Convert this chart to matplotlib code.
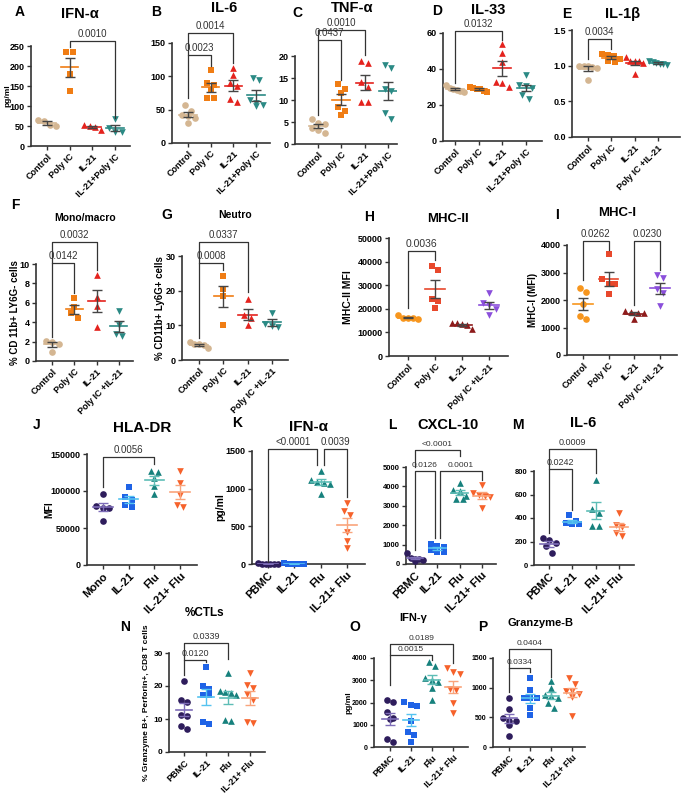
import numpy as np
import matplotlib
matplotlib.use("Agg")
import matplotlib.pyplot as plt

plt.rcParams['font.family'] = ['Liberation Sans', 'DejaVu Sans']

W, H = 685, 795

# ---- categories ----
cats_a = ["Control", "Poly IC", "IL-21", "IL-21+Poly IC"]
cats_e = ["Control", "Poly IC", "IL-21", "Poly IC +IL-21"]
cats_j = ["Mono", "IL-21", "Flu", "IL-21+ Flu"]
cats_k = ["PBMC", "IL-21", "Flu", "IL-21+ Flu"]

# ---- values ----
ifna_mouse = [[65, 63, 50, 52], [235, 235, 180, 137], [50, 52, 40, 48], [67, 45, 35, 35]]
il6_mouse = [[57, 48, 42, 40, 38, 30], [110, 90, 87, 80, 67, 67],
             [113, 102, 90, 85, 66, 61], [95, 98, 65, 60, 57, 55]]
tnfa = [[4.7, 5.6, 4.5, 3.6, 2.5, 3.2], [12.6, 13.7, 11.5, 8.5, 7.5, 6.5],
        [18.3, 18.9, 14.2, 9.5, 9.5, 13.0], [17.2, 18.0, 12.1, 12.4, 7.1, 5.7]]
il33 = [[27.5, 28.5, 29, 31, 28, 29.5], [28, 29, 30, 27.5, 29.5, 29],
        [54, 49, 44, 33, 32, 30], [30.5, 36.5, 31, 23.5, 25.5, 29.5]]
il1b = [[1.0, 1.0, 0.98, 0.97, 0.99, 0.80], [1.17, 1.15, 1.10, 1.06, 1.05, 1.14],
        [1.12, 1.06, 1.07, 1.04, 0.89, 1.06], [1.03, 1.02, 1.05, 1.07, 1.01, 1.04]]
mono_macro = [[2.0, 2.1, 1.8, 0.96], [6.5, 5.6, 4.9, 4.4], [8.9, 6.6, 5.7, 3.5], [5.2, 3.7, 2.6, 2.8]]
neutro = [[5.2, 4.6, 4.4, 3.4, 4.5], [24.2, 20.5, 18.5, 10.1], [17.5, 13, 12, 10], [13.7, 9.8, 9.6, 10.4]]
mhc2 = [[17500, 15500, 16200, 16000, 16200], [38200, 36300, 24100, 23100, 20300],
        [14000, 11500, 13500, 13200, 13800], [26500, 22500, 21500, 20000, 17500]]
mhc1 = [[2424, 2279, 1855, 1309, 1430], [3673, 2750, 2582, 2570, 2218],
        [1600, 1560, 1540, 1520, 1300], [2900, 2800, 2400, 2250, 1800]]
hla_dr = [[95800, 80000, 77700, 76800, 60100], [104800, 92000, 88000, 78000, 80500],
          [127400, 125600, 117500, 106200, 95800], [127000, 111000, 79000, 81500, 95000]]
ifna_human = [[5, 2, 8, 3, 4, 6], [3, 6, 2, 5, 4, 7],
              [1230, 1110, 1075, 1095, 1060, 935], [810, 700, 655, 430, 300, 210]]
cxcl10 = [[550, 320, 230, 280, 180, 250], [1050, 950, 900, 700, 620, 600],
          [4180, 3750, 3830, 3350, 3350, 3520], [4090, 3660, 3570, 3450, 3520, 2890]]
il6_human = [[227, 213, 190, 160, 105], [425, 375, 360, 345, 345],
             [720, 440, 335, 335, 480], [445, 340, 320, 245, 270]]
ctls = [[21.5, 15.2, 15.8, 11, 11.2, 7.1, 7.9], [25.9, 19, 20, 17.3, 17.3, 8.4, 9],
        [24, 18, 18.3, 18.6, 17.2, 9.5, 9.8], [24, 20.3, 19.3, 17.5, 15.8, 9.2, 8.8]]
ifng = [[2111, 2007, 1591, 1264, 1323, 372, 208], [1888, 2037, 1844, 1190, 669, 550, 223],
        [3820, 3630, 3110, 3000, 2930, 2630, 2110], [3554, 3301, 3375, 2587, 2558, 1963, 1546]]
gzmb = [[820, 635, 375, 430, 485, 180, 440], [1155, 960, 820, 830, 650, 540, 820],
        [1115, 1000, 875, 860, 830, 650, 735], [1170, 1070, 950, 950, 900, 840, 525]]

# ---- colours / markers ----
col_mouse = ['#D4B692', '#F07D14', '#E4231E', '#2B8A85']
col_mhc = ['#F7961E', '#E8482C', '#8E1B1B', '#8B4FDB']
col_human = ['#2E1D5C', '#1F63E6', '#17817D', '#F6622B']
err_human = ['#7E6DB8', '#55C3F0', '#5DBDB6', '#F9A47C']
mk = ['o', 's', '^', 'v']
GRAY = '#454545'

fig = plt.figure(figsize=(W / 100, H / 100), dpi=100)


def swarm(vals, ppu, sp, d=6.5, maxhalf=0.38):
    # rows of points that would overlap get spread sideways, centred on the category
    vals = np.asarray(vals, float)
    offs = np.zeros(len(vals))
    rows = []
    for idx in np.argsort(-vals, kind='stable'):
        if rows and abs(vals[rows[-1][0]] - vals[idx]) * ppu < d:
            rows[-1].append(idx)
        else:
            rows.append([idx])
    for row in rows:
        n = len(row)
        step = d / sp
        if n > 1 and (n - 1) * step / 2 > maxhalf:
            step = 2 * maxhalf / (n - 1)
        for k, idx in enumerate(row):
            offs[idx] = (k - (n - 1) / 2) * step
    return offs


def ftext(x, y, s, **kw):
    fig.text(x / W, 1 - y / H, s, **kw)


def panel(box, c0, sp, groups, cats, colors, ylim, yticks, ylabels=None,
          meanc=None, errc=None, brackets=(), xfs=6.5, yfs=6.5, pfs=7):
    L, R, y0, yt = box
    ax = fig.add_axes([L / W, 1 - y0 / H, (R - L) / W, (y0 - yt) / H])
    ax.set_xlim((L - c0) / sp, (R - c0) / sp)
    ax.set_ylim(*ylim)
    ppu = (y0 - yt) / (ylim[1] - ylim[0])
    meanc = meanc or colors
    errc = errc or [GRAY] * 4
    for i, vals in enumerate(groups):
        offs = swarm(vals, ppu, sp)
        ax.scatter(i + offs, vals, s=23, marker=mk[i], color=colors[i],
                   linewidths=0, zorder=3, clip_on=False)
        m = np.mean(vals)
        se = np.std(vals, ddof=1) / np.sqrt(len(vals))
        ax.plot([i - 0.38, i + 0.38], [m, m], color=meanc[i], lw=1.2, zorder=4)
        ax.errorbar(i, m, yerr=se, fmt='none', ecolor=errc[i], elinewidth=1,
                    capsize=3.3, capthick=1, zorder=4)
    for (i, j, yb, yi, yj, txt, oi, oj) in brackets:
        xi, xj = i + oi, j + oj
        ax.plot([xi, xi, xj, xj], [yi, yb, yb, yj], color='#333333', lw=0.9,
                clip_on=False, zorder=5)
        ax.annotate(txt, ((xi + xj) / 2, yb), xytext=(0, 1.5), textcoords='offset points',
                    ha='center', va='bottom', fontsize=pfs, color='#333333',
                    annotation_clip=False)
    for s in ['top', 'right']:
        ax.spines[s].set_visible(False)
    for s in ['left', 'bottom']:
        ax.spines[s].set_linewidth(1.2)
        ax.spines[s].set_color('#333333')
    ax.set_xticks(range(4))
    ax.set_xticklabels(cats, rotation=45, ha='right', rotation_mode='anchor',
                       fontsize=xfs, fontweight='bold')
    ax.set_yticks(yticks)
    ax.set_yticklabels(ylabels if ylabels else [str(t) for t in yticks],
                       fontsize=yfs, fontweight='bold')
    ax.tick_params(direction='out', length=3, width=1, color='#333333', pad=1.5)
    ax.patch.set_alpha(0)
    return ax


def heading(letter, lx, ly, title, tx, ty, tfs=10.5):
    ftext(lx, ly, letter, fontsize=10, fontweight='bold', ha='center', va='center')
    ftext(tx, ty, title, fontsize=tfs, fontweight='bold', ha='center', va='center')


def ylab(x, box, s, fs=6.5):
    ftext(x, (box[2] + box[3]) / 2, s, fontsize=fs, fontweight='bold',
          rotation=90, ha='center', va='center')


# ---- row 1 ----
b = (31, 130, 146, 46)
panel(b, 47, 22.7, ifna_mouse, cats_a, col_mouse, (0, 250), [0, 50, 100, 150, 200, 250],
      brackets=[(1, 3, 263, 247, 70, '0.0010', 0, 0)])
heading('A', 20, 12, 'IFN-α', 80, 14)
ylab(8, b, 'pg/ml', 6)

b = (172, 270, 143, 43)
panel(b, 188, 22.7, il6_mouse, cats_a, col_mouse, (0, 150), [0, 50, 100, 150],
      brackets=[(0, 1, 132, 67, 116, '0.0023', 0, 0), (0, 2, 165, 132, 120, '0.0014', 0, 0)])
heading('B', 156, 12, 'IL-6', 224, 8)

b = (295, 397, 144, 56)
panel(b, 318, 23.3, tnfa, cats_a, col_mouse, (0, 20), [0, 5, 10, 15, 20],
      brackets=[(0, 1, 23.6, 6.6, 14.5, '0.0437', 0, 0), (0, 2, 25.8, 23.6, 20.2, '0.0010', 0, 0)])
heading('C', 297, 13, 'TNF-α', 352, 8)

b = (443, 542, 141, 33)
panel(b, 455, 23.5, il33, cats_a, col_mouse, (0, 60), [0, 20, 40, 60],
      brackets=[(0, 2, 61, 32, 56, '0.0132', 0, 0)])
heading('D', 437, 11, 'IL-33', 488, 10)

b = (572, 680, 137, 30)
panel(b, 588, 23.3, il1b, cats_e, col_mouse, (0, 1.5), [0, 0.5, 1.0, 1.5],
      ylabels=['0.0', '0.5', '1.0', '1.5'],
      brackets=[(0, 1, 1.37, 1.10, 1.24, '0.0034', 0, 0)])
heading('E', 567, 14, 'IL-1β', 623, 14)

# ---- row 2 ----
b = (36, 133, 361, 264)
panel(b, 52, 22.3, mono_macro, cats_e, col_mouse, (0, 10), [0, 2, 4, 6, 8, 10],
      brackets=[(0, 1, 10.1, 2.5, 7.0, '0.0142', 0, 0), (0, 2, 12.3, 10.1, 9.4, '0.0032', 0, 0)])
heading('F', 15, 205, 'Mono/macro', 85, 218, 7.5)
ylab(15, b, '% CD 11b+ LY6G- cells', 7)

b = (182, 288, 360, 256)
panel(b, 199, 24.3, neutro, cats_e, col_mouse, (0, 30), [0, 10, 20, 30],
      brackets=[(0, 1, 28.1, 6.3, 26, '0.0008', 0, 0), (0, 2, 34.1, 28.1, 19.7, '0.0337', 0, 0)])
heading('G', 167, 215, 'Neutro', 235, 215, 7.5)
ylab(160, b, '% CD11b+ Ly6G+ cells', 7)

b = (389, 508, 356, 238)
panel(b, 408, 27, mhc2, cats_e, col_mhc, (0, 50000), [0, 10000, 20000, 30000, 40000, 50000],
      brackets=[(0, 1, 44300, 20200, 40800, '0.0036', 0, 0)], pfs=7.5)
heading('H', 369, 217, 'MHC-II', 448, 219, 9.5)
ylab(348, b, 'MHC-II MFI', 7.5)

b = (567, 677, 355, 245)
panel(b, 583, 25.7, mhc1, cats_e, col_mhc, (0, 4000), [0, 1000, 2000, 3000, 4000],
      brackets=[(0, 1, 4160, 2730, 3820, '0.0262', 0, 0), (2, 3, 4160, 1820, 3090, '0.0230', 0, 0)])
heading('I', 557, 215, 'MHC-I', 617, 213, 9.5)
ylab(533, b, 'MHC-I (MFI)', 7)

# ---- row 3 ----
b = (87, 197, 565, 454)
panel(b, 103, 25.7, hla_dr, cats_j, col_human, (0, 150000), [0, 50000, 100000, 150000],
      meanc=err_human, errc=err_human, xfs=8, yfs=6.5,
      brackets=[(0, 2, 145500, 106000, 137000, '0.0056', 0, 0)])
heading('J', 37, 425, 'HLA-DR', 142, 428, 11)
ylab(49, b, 'MFI', 7)

b = (252, 365, 564, 451)
panel(b, 268, 26.3, ifna_human, cats_k, col_human, (0, 1500), [0, 500, 1000, 1500],
      meanc=err_human, errc=err_human, xfs=8, yfs=6.5,
      brackets=[(0, 2, 1530, 30, 1320, '<0.0001', 0, -0.12),
                (2, 3, 1530, 1320, 890, '0.0039', 0.12, 0)])
heading('K', 237, 423, 'IFN-α', 308, 427, 11)
ylab(220, b, 'pg/ml', 7.5)

b = (406, 496, 564, 467)
panel(b, 415, 22.3, cxcl10, cats_k, col_human, (0, 5000), [0, 1000, 2000, 3000, 4000, 5000],
      meanc=err_human, errc=err_human, xfs=8, yfs=5.5, pfs=6,
      brackets=[(0, 1, 4810, 740, 1340, '0.0126', 0, -0.1),
                (1, 3, 4810, 1340, 4350, '0.0001', 0.1, 0),
                (0, 2, 5890, 5000, 5550, '<0.0001', 0, 0)])
heading('L', 392, 425, 'CXCL-10', 448, 425, 10.5)

b = (534, 634, 565, 471)
panel(b, 549, 23.3, il6_human, cats_k, col_human, (0, 800), [0, 200, 400, 600, 800],
      meanc=err_human, errc=err_human, xfs=8, yfs=5.5, pfs=6.5,
      brackets=[(0, 1, 814, 270, 468, '0.0242', 0, 0), (0, 2, 984, 814, 780, '0.0009', 0, 0)])
heading('M', 518, 425, 'IL-6', 583, 423, 10.5)

# ---- row 4 ----
b = (169, 265, 752, 653)
panel(b, 184, 22, ctls, cats_k, col_human, (0, 30), [0, 10, 20, 30],
      meanc=err_human, errc=err_human, xfs=6.5, yfs=6, pfs=6.5,
      brackets=[(0, 1, 28, 23.4, 27.2, '0.0120', 0, 0), (0, 2, 32.9, 28, 28.2, '0.0339', 0, 0)])
heading('N', 125, 627, '%CTLs', 205, 613, 8.5)
ylab(146, b, '% Granzyme B+, Perforin+, CD8 T cells', 6)

b = (374, 468, 747, 658)
panel(b, 390, 21, ifng, cats_k, col_human, (0, 4000), [0, 1000, 2000, 3000, 4000],
      meanc=err_human, errc=err_human, xfs=6.5, yfs=5, pfs=6,
      brackets=[(0, 2, 4150, 2780, 3925, '0.0015', 0, 0), (0, 3, 4640, 4150, 3777, '0.0189', 0, 0)])
heading('O', 355, 627, 'IFN-γ', 413, 618, 8)
ylab(349, b, 'pg/ml', 6)

b = (493, 585, 747, 658)
panel(b, 509, 21, gzmb, cats_k, col_human, (0, 1500), [0, 500, 1000, 1500],
      meanc=err_human, errc=err_human, xfs=6.5, yfs=5, pfs=6,
      brackets=[(0, 1, 1333, 931, 1266, '0.0334', 0, 0), (0, 2, 1656, 1333, 1182, '0.0404', 0, 0)])
heading('P', 483, 627, 'Granzyme-B', 540, 623, 8)

fig.savefig('out.png', dpi=100)
